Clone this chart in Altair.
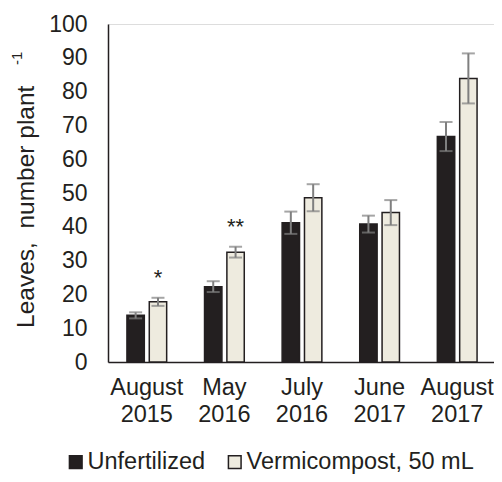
import altair as alt
import pandas as pd

categories = ["August 2015", "May 2016", "July 2016", "June 2017", "August 2017"]
series = ["Unfertilized", "Vermicompost, 50 mL"]
unfert = [13.8, 22.3, 41.2, 40.8, 66.7]
unfert_err = [0.9, 1.6, 3.3, 2.5, 4.3]
verm = [17.8, 32.5, 48.6, 44.2, 83.9]
verm_err = [1.2, 1.6, 4.0, 3.7, 7.4]
signif = ["*", "**", "", "", ""]
y_ticks = [0, 10, 20, 30, 40, 50, 60, 70, 80, 90, 100]

rows = []
for i, c in enumerate(categories):
    rows.append({"cat": c, "series": series[0], "value": unfert[i],
                 "lo": unfert[i] - unfert_err[i], "hi": unfert[i] + unfert_err[i], "sig": ""})
    rows.append({"cat": c, "series": series[1], "value": verm[i],
                 "lo": verm[i] - verm_err[i], "hi": verm[i] + verm_err[i], "sig": signif[i]})
df = pd.DataFrame(rows)

FONT = "Liberation Sans"
DARK = "#231F20"
GRAY = "#7F7F7F"

x_enc = alt.X("cat:N", sort=categories,
              scale=alt.Scale(paddingInner=0.488, paddingOuter=0.244, range=[0, 388]),
              axis=alt.Axis(title=None, labelAngle=0, ticks=False, tickSize=0,
                            labelExpr="split(datum.label, ' ')",
                            labelFontSize=23.5, labelColor=DARK, labelFont=FONT,
                            labelPadding=13, labelLineHeight=27,
                            labelBaseline="top",
                            domainColor=DARK, domainWidth=1.5))
xo_enc = alt.XOffset("series:N", sort=series,
                     scale=alt.Scale(paddingInner=0.222, paddingOuter=0))

base = alt.Chart(df)

bars = base.mark_bar(stroke=DARK, strokeWidth=1.5).encode(
    x=x_enc,
    xOffset=xo_enc,
    y=alt.Y("value:Q", scale=alt.Scale(domain=[0, 100]),
            axis=alt.Axis(values=y_ticks, tickCount=11, labelOverlap=False,
                          grid=False, ticks=False, tickSize=0,
                          labelFontSize=23, labelColor=DARK, labelFont=FONT,
                          labelPadding=21, domainColor=DARK, domainWidth=1.5,
                          title="Leaves,\u00a0\u00a0number plant", titleFont=FONT,
                          titleFontSize=24.5, titleFontWeight="normal",
                          titleColor=DARK, titleAngle=270, titleAlign="left",
                          titleBaseline="alphabetic", titleX=-74.7, titleY=303.5)),
    color=alt.Color("series:N", sort=series,
                    scale=alt.Scale(domain=series, range=[DARK, "#EEEBDF"]),
                    legend=alt.Legend(title=None, orient="none", direction="horizontal",
                                      legendX=-44, legendY=426, padding=0,
                                      symbolType="square", symbolSize=160,
                                      symbolStrokeColor=DARK, symbolStrokeWidth=1.5,
                                      labelFontSize=23.5, labelFont=FONT, labelColor=DARK,
                                      labelOffset=0, columnPadding=17, labelLimit=400)),
)

err = base.mark_rule(color=GRAY, strokeWidth=2).encode(
    x=alt.X("cat:N", sort=categories), xOffset=alt.XOffset("series:N", sort=series),
    y="lo:Q", y2="hi:Q")

cap_hi = base.mark_tick(color=GRAY, thickness=2, size=13, orient="horizontal").encode(
    x=alt.X("cat:N", sort=categories), xOffset=alt.XOffset("series:N", sort=series),
    y="hi:Q")
cap_lo = base.mark_tick(color=GRAY, thickness=2, size=13, orient="horizontal").encode(
    x=alt.X("cat:N", sort=categories), xOffset=alt.XOffset("series:N", sort=series),
    y="lo:Q")

stars = base.mark_text(fontSize=22, font=FONT, color=DARK, baseline="alphabetic",
                       dy=-12.5).encode(
    x=alt.X("cat:N", sort=categories), xOffset=alt.XOffset("series:N", sort=series),
    y="hi:Q", text="sig:N")

sup = alt.Chart(pd.DataFrame({"t": ["-1"]})).mark_text(
    angle=270, align="left", baseline="alphabetic", fontSize=15, font=FONT,
    color=DARK).encode(text="t:N", x=alt.value(-86.3), y=alt.value(41))

chart = alt.layer(bars, err, cap_hi, cap_lo, stars, sup).properties(
    width=386, height=338,
    autosize=alt.AutoSizeParams(type="none"),
    padding={"left": 100, "top": 16, "right": 0, "bottom": 112},
).configure_view(stroke=None).configure(font=FONT)

chart.save("out.html", embed_options={"renderer": "svg", "actions": False})
